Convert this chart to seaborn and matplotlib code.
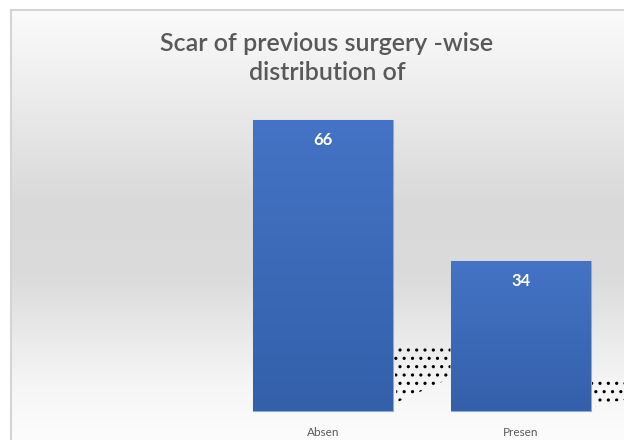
import numpy as np
import seaborn as sns
import matplotlib.pyplot as plt
from matplotlib.colors import LinearSegmentedColormap
from matplotlib.patches import Polygon

categorias = ["Absen", "Presen"]
valores = [66, 34]
titulo = "Scar of previous surgery -wise\ndistribution of"

sns.set_theme(style="white")
plt.rcParams["font.family"] = ["Lato", "DejaVu Sans"]
plt.rcParams["hatch.linewidth"] = 1.1

fig = plt.figure(figsize=(6.24, 4.40), dpi=100)
fig.patch.set_facecolor("white")
ax = fig.add_axes([11 / 624, 0, 613 / 624, 430 / 440])

# fondo degradado (blanco - gris - blanco)
fondo = LinearSegmentedColormap.from_list(
    "fondo", [(0, "#fbfbfb"), (0.12, "#f2f2f2"), (0.45, "#d9d9d9"),
              (0.62, "#dbdbdb"), (0.88, "#f6f6f6"), (1, "#fcfcfc")])
grad = np.linspace(0, 1, 256).reshape(-1, 1)
ax.imshow(grad, extent=[0, 1, 0, 1], transform=ax.transAxes, cmap=fondo,
          aspect="auto", origin="upper", zorder=0)

sns.barplot(x=categorias, y=valores, width=140 / 198, color="#4472c4",
            edgecolor="#8eaadb", linewidth=0.8, ax=ax, zorder=2)

azul = LinearSegmentedColormap.from_list("azul", ["#4573c5", "#3460aa"])
for barra, v in zip(ax.patches, valores):
    x0, w, h = barra.get_x(), barra.get_width(), barra.get_height()
    img = ax.imshow(grad, extent=[x0, x0 + w, 0, h], cmap=azul, aspect="auto",
                    origin="upper", zorder=3)
    img.set_clip_path(barra)
    # sombra punteada
    r = x0 + w
    sup = 0.227 * h
    sombra = Polygon([(r, sup), (r + 0.29, sup), (r + 0.29, sup * 0.5),
                      (r + 0.02, 0.03 * h)], closed=True, facecolor="none",
                     edgecolor="black", hatch="..", linewidth=0, zorder=1)
    ax.add_patch(sombra)
    ax.text(x0 + w / 2, h - 4.5, str(v), color="white", fontsize=12,
            fontweight="bold", ha="center", va="center", zorder=4)

for i, c in enumerate(categorias):
    ax.text(i, -4.9, c, color="#595959", fontsize=8.5, ha="center",
            va="center", family=["Liberation Sans Narrow", "Lato"])

ax.set_xlim(-312 / 198, 301 / 198)
ax.set_ylim(-29 / 4.41, 401 / 4.41)
ax.set_xticks([])
ax.set_yticks([])
ax.set_xlabel("")
ax.set_ylabel("")
for lado in ["right", "bottom"]:
    ax.spines[lado].set_visible(False)
for lado in ["left", "top"]:
    ax.spines[lado].set_color("#d4d4d4")
    ax.spines[lado].set_linewidth(1.5)

fig.text(327 / 624, 1 - 58 / 440, titulo, ha="center", va="center",
         fontsize=18, fontweight="semibold", color="#595959", linespacing=1.3)

plt.savefig("out.png", dpi=100)
